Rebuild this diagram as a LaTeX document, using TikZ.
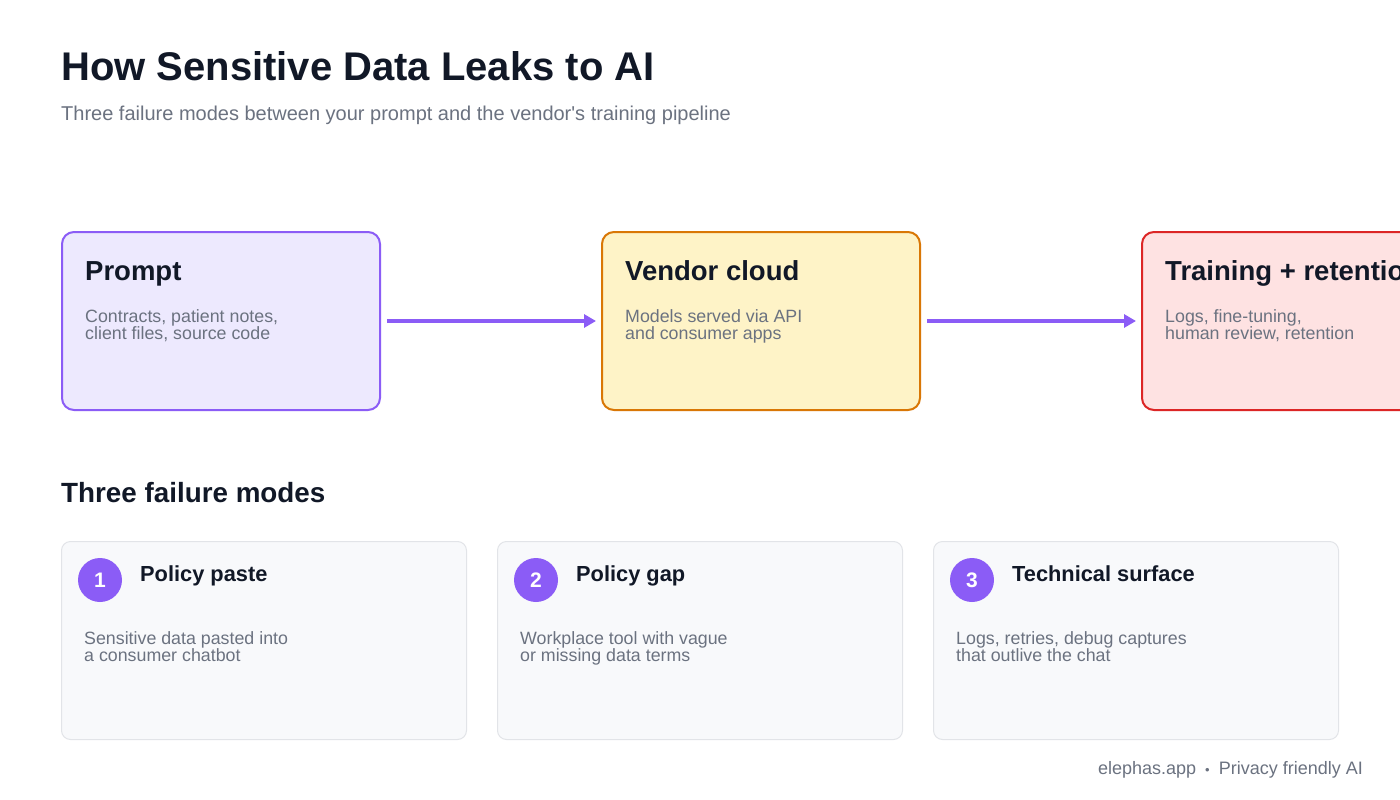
\documentclass[tikz,border=0pt]{standalone}
\usepackage{fontspec}
\setmainfont{Liberation Sans}
\usetikzlibrary{positioning,arrows.meta}
\definecolor{ink}{HTML}{111827}
\definecolor{muted}{HTML}{6B7280}
\definecolor{violet}{HTML}{8B5CF6}
\definecolor{violetbg}{HTML}{EDE9FE}
\definecolor{amber}{HTML}{D97706}
\definecolor{amberbg}{HTML}{FEF3C7}
\definecolor{crimson}{HTML}{DC2626}
\definecolor{crimsonbg}{HTML}{FEE2E2}
\definecolor{cardbg}{HTML}{F8F9FB}
\definecolor{cardline}{HTML}{E2E4E8}
\newcommand*{\fsz}[1]{\fontsize{#1}{#1}\selectfont}
\begin{document}
\begin{tikzpicture}[x=1pt,y=-1pt,
    stage_box/.style ={rectangle, rounded corners=12pt, line width=2pt,
      minimum width=318pt, minimum height=178pt, anchor=north west},
    stage_title/.style ={anchor=base west, inner sep=0pt, text=ink, font=\fsz{27.5}\bfseries},
    stage_body/.style ={anchor=north west, inner sep=0pt, text=muted, font=\fsz{17.8},
      align=left},
    card_box/.style ={rectangle, rounded corners=9pt, draw=cardline, line width=1pt,
      fill=cardbg, minimum width=405pt, minimum height=198pt, anchor=north west},
    card_num/.style ={circle, fill=violet, text=white, minimum size=44pt, inner sep=0pt,
      font=\fsz{21}\bfseries},
    card_title/.style ={anchor=base west, inner sep=0pt, text=ink, font=\fsz{21.8}\bfseries},
    flow/.style ={draw=violet, line width=3.5pt, -{Triangle[length=12pt,width=13pt]}}]
    % canvas
    \clip (0,0) rectangle (1400,800);
    \fill[white] (0,0) rectangle (1400,800);
    % heading
    \node[anchor=base west, inner sep=0pt, text=ink, font=\fsz{40}\bfseries] (title) at (61,81)
      {How Sensitive Data Leaks to AI};
    \node[anchor=base west, inner sep=0pt, text=muted, font=\fsz{20}] (subtitle) at (61,120)
      {Three failure modes between your prompt and the vendor\textquotesingle s training pipeline};
    % pipeline stages
    \node[stage_box, draw=violet, fill=violetbg] (prompt) at (61,231) {};
    \node[stage_box, draw=amber, fill=amberbg] (vendor) at (601,231) {};
    \node[stage_box, draw=crimson, fill=crimsonbg] (training) at (1141,231) {};
    \node[stage_title] (prompt_t) at (85,280) {Prompt};
    \node[stage_title] (vendor_t) at (625,280) {Vendor cloud};
    \node[stage_title] (training_t) at (1165,280) {Training + retention};
    \node[stage_body] (prompt_b) at (85,309) {Contracts, patient notes,\\client files, source code};
    \node[stage_body] (vendor_b) at (625,309) {Models served via API\\and consumer apps};
    \node[stage_body] (training_b) at (1165,309) {Logs, fine-tuning,\\human review, retention};
    % connecting stages
    \path[flow] ([xshift=6pt]prompt.east) -- ([xshift=-5pt]vendor.west);
    \path[flow] ([xshift=6pt]vendor.east) -- ([xshift=-5pt]training.west);
    % failure modes
    \node[anchor=base west, inner sep=0pt, text=ink, font=\fsz{27.8}\bfseries] (modes) at (61,502)
      {Three failure modes};
    \foreach \i/\x/\name/\lineA/\lineB in {
        1/61/{Policy paste}/{Sensitive data pasted into}/{a consumer chatbot},
        2/497/{Policy gap}/{Workplace tool with vague}/{or missing data terms},
        3/933/{Technical surface}/{Logs, retries, debug captures}/{that outlive the chat}} {
      \node[card_box] (card\i) at (\x,541) {};
      \node[card_num] (num\i) at (\x+39,580) {\i};
      \node[card_title] (card\i_t) at (\x+79,581) {\name};
      \node[stage_body] (card\i_b) at (\x+23,631) {\lineA\\\lineB};
    }
    % footer
    \node[anchor=base east, inner sep=0pt, text=muted, font=\fsz{18}] (footer) at (1363,774)
      {elephas.app\hspace{9pt}{\fsz{13}•}\hspace{9pt}Privacy friendly AI};
\end{tikzpicture}
\end{document}
